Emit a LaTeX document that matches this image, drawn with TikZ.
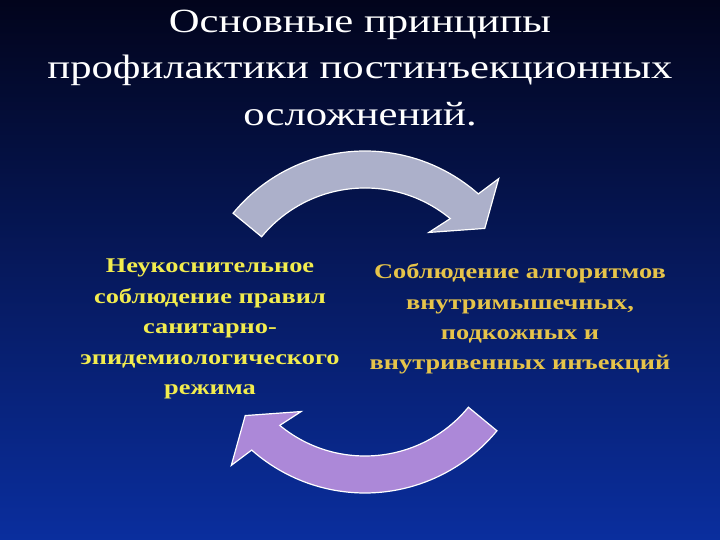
\documentclass[tikz,border=0pt]{standalone}
\usepackage{fontspec}
\setmainfont{Liberation Serif}
\newfontfamily\widefont[FakeStretch=1.26]{Liberation Serif}
\usepackage{tikz}
\usetikzlibrary{positioning, calc}
\definecolor{bgtop}{RGB}{2, 4, 28}
\definecolor{bgmid}{RGB}{6, 34, 130}
\definecolor{bgbottom}{RGB}{10, 46, 158}
\definecolor{greyarrow}{RGB}{172, 176, 202}
\definecolor{purplearrow}{RGB}{172, 136, 216}
\definecolor{lefttext}{RGB}{242, 236, 78}
\definecolor{righttext}{RGB}{230, 196, 74}

\begin{document}
\begin{tikzpicture}[
    x=1bp, y=1bp,
    title/.style={text=white, align=center, font=\widefont\fontsize{34}{47}\selectfont},
    principle/.style={align=center, font=\widefont\fontsize{21}{30.5}\selectfont\bfseries},
    cyclearrow/.style={draw=white, line width=1.2bp, line join=miter}
]
    % Background
    \useasboundingbox (0,0) rectangle (720,540);
    \shade[top color=bgtop, middle color=bgmid, bottom color=bgbottom] (0,0) rectangle (720,540);

    % Title
    \node[title] (heading) at (360,472) {Основные принципы\\профилактики постинъекционных\\осложнений.};

    % Cycle centre
    \coordinate (hub) at (365,218);

    % Arrows
    \path[cyclearrow, fill=greyarrow, shift={(hub)}]
        (140.5:171bp) arc[start angle=140.5, end angle=48.5, radius=171bp]
        -- (47:196bp) -- (38:152bp) -- (54.5:110bp) -- (50.5:134bp)
        arc[start angle=50.5, end angle=140.5, radius=134bp] -- cycle;
    \path[cyclearrow, fill=purplearrow, shift={(hub)}, rotate=180]
        (140.5:171bp) arc[start angle=140.5, end angle=48.5, radius=171bp]
        -- (47:196bp) -- (38:152bp) -- (54.5:110bp) -- (50.5:134bp)
        arc[start angle=50.5, end angle=140.5, radius=134bp] -- cycle;

    % Principles
    \node[principle, text=lefttext] (sanitary) at (210,211) {Неукоснительное\\соблюдение правил\\санитарно-\\эпидемиологического\\режима};
    \node[principle, text=righttext] (injection) at (520,221) {Соблюдение алгоритмов\\внутримышечных,\\подкожных и\\внутривенных инъекций};
\end{tikzpicture}
\end{document}
